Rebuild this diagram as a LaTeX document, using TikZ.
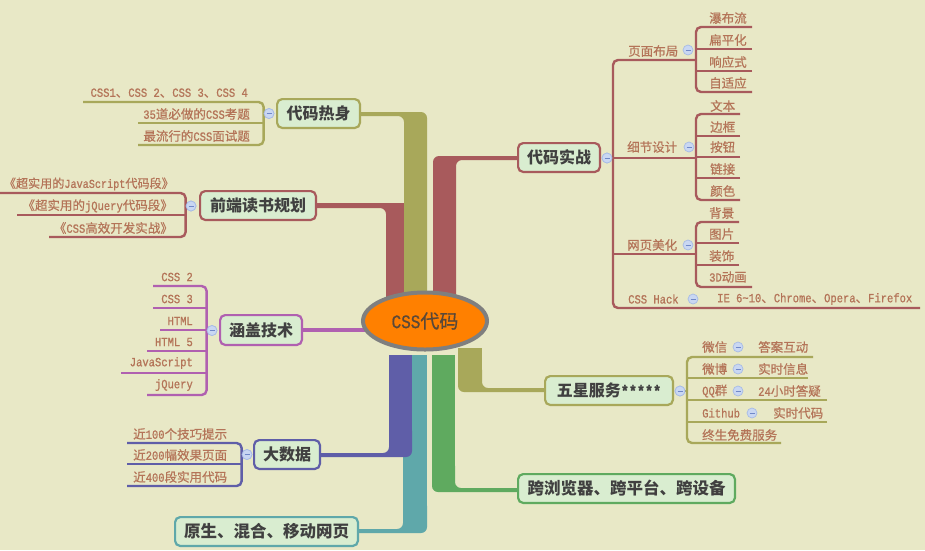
\documentclass[tikz,border=0pt]{standalone}
\usepackage{fontspec}
\setmainfont{Noto Sans CJK SC}
\newfontfamily\leafcjk[FakeBold=0.6]{Noto Sans CJK SC}
\newfontfamily\latmono[FakeStretch=0.84, FakeBold=0.8]{Liberation Mono}
\newcommand\lat[1]{{\latmono #1}}
\usetikzlibrary{shapes.geometric}

\definecolor{bgc}{HTML}{E8E8C6}
\definecolor{boxc}{HTML}{D9EDD0}
\definecolor{redc}{HTML}{A85A5C}
\definecolor{olivec}{HTML}{A8A85A}
\definecolor{magc}{HTML}{B060B0}
\definecolor{purc}{HTML}{5F5EA8}
\definecolor{tealc}{HTML}{5FA8AA}
\definecolor{greenc}{HTML}{5FAA5F}
\definecolor{orangec}{HTML}{FF8000}
\definecolor{ringc}{HTML}{7F7F7F}
\definecolor{coret}{HTML}{5A4838}
\definecolor{topict}{HTML}{404040}
\definecolor{leaft}{HTML}{B47458}
\definecolor{foldf}{HTML}{C9D7F2}
\definecolor{foldd}{HTML}{A7BBE6}
\definecolor{foldm}{HTML}{7088C8}

\begin{document}
\begin{tikzpicture}[x=1pt,y=-1pt,
  topic/.style={draw=#1, line width=2.2pt, rounded corners=5pt, fill=boxc,
    text=topict, font=\bfseries\fontsize{16}{18}\selectfont,
    minimum height=28.8pt, inner sep=0pt},
  bigtopic/.style={font=\bfseries\fontsize{16.5}{19}\selectfont},
  leaf/.style={inner sep=0pt, text=leaft, font={\fontsize{12.5}{14}\leafcjk}},
  fold/.style={circle, draw=foldd, fill=foldf, line width=0.7pt,
    minimum size=10pt, inner sep=0pt,
    path picture={\draw[foldm, line width=0.8pt]
      ([xshift=-2.5pt]path picture bounding box.center) --
      ([xshift=2.5pt]path picture bounding box.center);}},
  twig/.style={line width=2.4pt, rounded corners=5pt},
]
% canvas
\fill[bgc] (0,0) rectangle (925,550);
\useasboundingbox (0,0) rectangle (925,550);

% ---- main branches: thick trunks leaving the central ellipse ----
% upper left: 前端读书规划
\fill[redc, rounded corners=6pt] (386,315) -- (386,208) -- (300,208) -- (300,203) -- (409,203) -- (409,315) -- cycle;
% upper left: 代码热身
\fill[olivec, rounded corners=6pt] (404,315) -- (404,116) -- (340,116) -- (340,112) -- (427,112) -- (427,315) -- cycle;
% upper right: 代码实战
\fill[redc, rounded corners=6pt] (456,315) -- (456,160) -- (530,160) -- (530,156) -- (433,156) -- (433,315) -- cycle;
% lower: 原生、混合、移动网页
\fill[tealc] (403,355) rectangle (427,515);
\fill[tealc, rounded corners=6pt] (403,500) -- (403,529) -- (340,529) -- (340,533) -- (427,533) -- (427,500) -- cycle;
% lower: 大数据
\fill[purc] (389,355) rectangle (412,440);
\fill[purc, rounded corners=6pt] (389,425) -- (389,453) -- (310,453) -- (310,457) -- (412,457) -- (412,425) -- cycle;
% lower: 跨浏览器
\fill[greenc] (432,355) rectangle (455,475);
\fill[greenc, rounded corners=6pt] (455,460) -- (455,488) -- (530,488) -- (530,492) -- (432,492) -- (432,460) -- cycle;
% lower right: 五星服务
\fill[olivec] (458,348) rectangle (482,378);
\fill[olivec, rounded corners=6pt] (482,364) -- (482,388) -- (555,388) -- (555,392) -- (458,392) -- (458,364) -- cycle;

% ---- topics ----
\node[topic=olivec, minimum width=82.8pt] (warm) at (318.5,113.5) {代码热身};
\node[topic=redc, minimum width=115.8pt] (read) at (258,205.5) {前端读书规划};
\node[topic=magc, minimum width=81.8pt, minimum height=29.8pt] (cover) at (261,330) {涵盖技术};
\node[topic=purc, minimum width=65.8pt] (data) at (287,454.5) {大数据};
\node[topic=tealc, bigtopic, minimum width=182.8pt] (native) at (266.5,531.5) {原生、混合、移动网页};
\node[topic=redc, minimum width=81.8pt] (war) at (559,157.5) {代码实战};
\node[topic=olivec, minimum width=127.8pt] (star) at (609,390.5) {五星服务\lat{*****}};
\node[topic=greenc, bigtopic, minimum width=216.8pt] (cross) at (626.5,488.5) {跨浏览器、跨平台、跨设备};

% centre
\draw[magc, line width=4pt] (cover.east) -- (cover.east -| 425,0);
\node[ellipse, draw=ringc, line width=4pt, fill=orangec, minimum width=124pt,
  minimum height=57pt, inner sep=0pt, text=coret,
  font={\fontsize{19}{20}\leafcjk}] (core) at (425,321) {\lat{CSS}代码};

% ---- 代码热身 ----
\node[fold] (fw) at (269,113.5) {};
\coordinate (w1e) at (83,102);
\coordinate (w2e) at (138,123);
\coordinate (w3e) at (138,145);
\draw[twig, olivec] (w1e) -- (w1e -| fw.west) -- (w3e -| fw.west) -- (w3e);
\draw[twig, olivec] (w2e) -- (w2e -| fw.west);
\node[leaf, anchor=east] (w1) at (248,93) {\lat{CSS1}、\lat{CSS 2}、\lat{CSS 3}、\lat{CSS 4}};
\node[leaf, anchor=east] (w2) at (250,114) {\lat{35}道必做的\lat{CSS}考题};
\node[leaf, anchor=east] (w3) at (250,136) {最流行的\lat{CSS}面试题};
\node[fold] at (fw) {};

% ---- 前端读书规划 ----
\node[fold] (fr) at (191,206) {};
\coordinate (r1e) at (0,193);
\coordinate (r2e) at (17,215);
\coordinate (r3e) at (49,237);
\draw[twig, redc] (r1e) -- (r1e -| fr.west) -- (r3e -| fr.west) -- (r3e);
\draw[twig, redc] (r2e) -- (r2e -| fr.west);
\node[leaf, anchor=east, font={\fontsize{12.1}{14}\leafcjk}] (r1) at (174,184) {《超实用的\lat{JavaScript}代码段》};
\node[leaf, anchor=east] (r2) at (173,206) {《超实用的\lat{jQuery}代码段》};
\node[leaf, anchor=east] (r3) at (173,228) {《\lat{CSS}高效开发实战》};
\node[fold] at (fr) {};

% ---- 涵盖技术 ----
\node[fold] (fc) at (212,330.5) {};
\coordinate (c1e) at (153,286);
\coordinate (c2e) at (153,308);
\coordinate (c3e) at (160,330);
\coordinate (c4e) at (147,351);
\coordinate (c5e) at (121,373);
\coordinate (c6e) at (147,395);
\draw[twig, magc] (c1e) -- (c1e -| fc.west) -- (c6e -| fc.west) -- (c6e);
\foreach \c in {c2e,c3e,c4e,c5e} \draw[twig, magc] (\c) -- (\c -| fc.west);
\node[leaf, anchor=east] (c1) at (193,277) {\lat{CSS 2}};
\node[leaf, anchor=east] (c2) at (193,299) {\lat{CSS 3}};
\node[leaf, anchor=east] (c3) at (193,321) {\lat{HTML}};
\node[leaf, anchor=east] (c4) at (193,342) {\lat{HTML 5}};
\node[leaf, anchor=east] (c5) at (193,363) {\lat{JavaScript}};
\node[leaf, anchor=east] (c6) at (193,385) {\lat{jQuery}};
\node[fold] at (fc) {};

% ---- 大数据 ----
\node[fold] (fd) at (247,454.5) {};
\coordinate (d1e) at (127,443);
\coordinate (d2e) at (127,464);
\coordinate (d3e) at (127,486);
\draw[twig, purc] (d1e) -- (d1e -| fd.west) -- (d3e -| fd.west) -- (d3e);
\draw[twig, purc] (d2e) -- (d2e -| fd.west);
\node[leaf, anchor=west] (d1) at (133,434) {近\lat{100}个技巧提示};
\node[leaf, anchor=west] (d2) at (133,455) {近\lat{200}幅效果页面};
\node[leaf, anchor=west] (d3) at (133,477) {近\lat{400}段实用代码};
\node[fold] at (fd) {};

% ---- 代码实战 ----
\node[fold] (fwar) at (607,158) {};
\coordinate (trunk) at (613,0);
\coordinate (k1) at (696,60);
\coordinate (k3) at (696,254);
\coordinate (k4) at (920,308);
\draw[twig, redc] (k1) -- (k1 -| trunk) -- (k4 -| trunk) -- (k4);
\draw[twig, redc] (fwar.east) -- (fwar.east -| k1);
\draw[twig, redc] (k3 -| trunk) -- (k3);
% 页面布局
\coordinate (p1e) at (752,27);
\coordinate (p2e) at (752,49);
\coordinate (p3e) at (752,71);
\coordinate (p4e) at (752,92);
\draw[twig, redc] (p1e) -- (p1e -| k1) -- (p4e -| k1) -- (p4e);
\draw[twig, redc] (p2e) -- (p2e -| k1);
\draw[twig, redc] (p3e) -- (p3e -| k1);
% 细节设计
\coordinate (q1e) at (740,114);
\coordinate (q2e) at (740,136);
\coordinate (q3e) at (740,157);
\coordinate (q4e) at (740,178);
\coordinate (q5e) at (740,200);
\draw[twig, redc] (q1e) -- (q1e -| k1) -- (q5e -| k1) -- (q5e);
\foreach \q in {q2e,q3e,q4e} \draw[twig, redc] (\q) -- (\q -| k1);
% 网页美化
\coordinate (u1e) at (739,222);
\coordinate (u2e) at (739,243);
\coordinate (u3e) at (739,265);
\coordinate (u4e) at (752,287);
\draw[twig, redc] (u1e) -- (u1e -| k1) -- (u4e -| k1) -- (u4e);
\draw[twig, redc] (u2e) -- (u2e -| k1);
\draw[twig, redc] (u3e) -- (u3e -| k1);
\node[fold] at (fwar) {};

\node[leaf, anchor=west] (s1) at (628,51) {页面布局};
\node[fold] (fs1) at (688,50) {};
\node[leaf, anchor=west] (s2) at (627,147) {细节设计};
\node[fold] (fs2) at (689,147) {};
\node[leaf, anchor=west] (s3) at (627,245) {网页美化};
\node[fold] (fs3) at (688,245) {};
\node[leaf, anchor=west] (s4) at (628,299) {\lat{CSS Hack}};
\node[fold] (fs4) at (693,299) {};
\node[leaf, anchor=west] (s4a) at (717,299) {\lat{IE 6\textasciitilde10}、\lat{Chrome}、\lat{Opera}、\lat{Firefox}};

\node[leaf, anchor=west] (p1) at (709,18) {瀑布流};
\node[leaf, anchor=west] (p2) at (709,40) {扁平化};
\node[leaf, anchor=west] (p3) at (709,62) {响应式};
\node[leaf, anchor=west] (p4) at (709,83) {自适应};
\node[leaf, anchor=west] (q1) at (710,106) {文本};
\node[leaf, anchor=west] (q2) at (710,127) {边框};
\node[leaf, anchor=west] (q3) at (710,147) {按钮};
\node[leaf, anchor=west] (q4) at (710,169) {链接};
\node[leaf, anchor=west] (q5) at (710,191) {颜色};
\node[leaf, anchor=west] (u1) at (709,213) {背景};
\node[leaf, anchor=west] (u2) at (709,234) {图片};
\node[leaf, anchor=west] (u3) at (709,256) {装饰};
\node[leaf, anchor=west] (u4) at (709,277) {\lat{3D}动画};

% ---- 五星服务 ----
\node[fold] (fst) at (680,391) {};
\coordinate (sb) at (687,391);
\coordinate (x1e) at (813,357);
\coordinate (x2e) at (808,378);
\coordinate (x3e) at (827,400);
\coordinate (x4e) at (827,422);
\coordinate (x5e) at (781,443);
\draw[twig, olivec] (x1e) -- (x1e -| sb) -- (x5e -| sb) -- (x5e);
\foreach \x in {x2e,x3e,x4e} \draw[twig, olivec] (\x) -- (\x -| sb);
\draw[twig, olivec] (fst.east) -- (sb);
\node[fold] at (fst) {};
\node[leaf, anchor=west] (x1) at (702,347) {微信};
\node[fold] (fx1) at (738,347) {};
\node[leaf, anchor=west] (x1a) at (758,347) {答案互动};
\node[leaf, anchor=west] (x2) at (702,369) {微博};
\node[fold] (fx2) at (738,369) {};
\node[leaf, anchor=west] (x2a) at (758,369) {实时信息};
\node[leaf, anchor=west] (x3) at (702,391) {\lat{QQ}群};
\node[fold] (fx3) at (738,391) {};
\node[leaf, anchor=west] (x3a) at (758,391) {\lat{24}小时答疑};
\node[leaf, anchor=west] (x4) at (702,413) {\lat{Github}};
\node[fold] (fx4) at (752,413) {};
\node[leaf, anchor=west] (x4a) at (773,413) {实时代码};
\node[leaf, anchor=west] (x5) at (702,435) {终生免费服务};
\end{tikzpicture}
\end{document}
